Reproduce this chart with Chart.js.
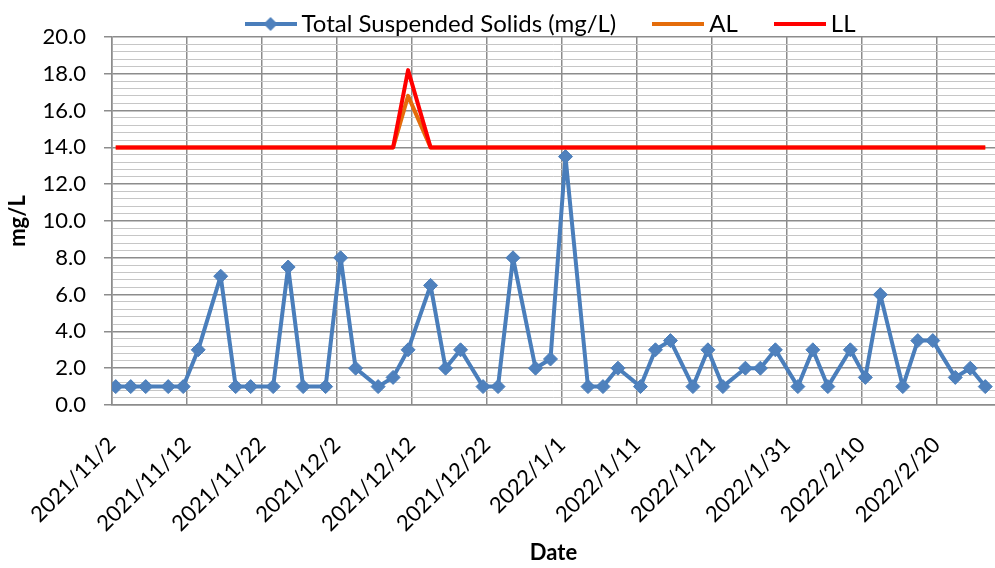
<!DOCTYPE html>
<html>
<head>
<meta charset="utf-8">
<title>Total Suspended Solids</title>
<script src="https://cdn.jsdelivr.net/npm/chart.js@4/dist/chart.umd.min.js"></script>
<style>
  html, body { margin: 0; padding: 0; background: #fff; }
  canvas { display: block; }
</style>
</head>
<body>
<canvas id="tssChart" width="995" height="568"></canvas>
<script>
// sampling dates and measured values
const dates = [
  '2021/11/2','2021/11/4','2021/11/6','2021/11/9','2021/11/11','2021/11/13','2021/11/16','2021/11/18','2021/11/20',
  '2021/11/23','2021/11/25','2021/11/27','2021/11/30','2021/12/2','2021/12/4','2021/12/7','2021/12/9','2021/12/11',
  '2021/12/14','2021/12/16','2021/12/18','2021/12/21','2021/12/23','2021/12/25','2021/12/28','2021/12/30','2022/1/1',
  '2022/1/4','2022/1/6','2022/1/8','2022/1/11','2022/1/13','2022/1/15','2022/1/18','2022/1/20','2022/1/22',
  '2022/1/25','2022/1/27','2022/1/29','2022/2/1','2022/2/3','2022/2/5','2022/2/8','2022/2/10','2022/2/12',
  '2022/2/15','2022/2/17','2022/2/19','2022/2/22','2022/2/24','2022/2/26'
];
const tss = [
  1, 1, 1, 1, 1, 3, 7, 1, 1,
  1, 7.5, 1, 1, 8, 2, 1, 1.5, 3,
  6.5, 2, 3, 1, 1, 8, 2, 2.5, 13.5,
  1, 1, 2, 1, 3, 3.5, 1, 3, 1,
  2, 2, 3, 1, 3, 1, 3, 1.5, 6,
  1, 3.5, 3.5, 1.5, 2, 1
];
const alLimit = [
  14, 14, 14, 14, 14, 14, 14, 14, 14,
  14, 14, 14, 14, 14, 14, 14, 14, 16.8,
  14, 14, 14, 14, 14, 14, 14, 14, 14,
  14, 14, 14, 14, 14, 14, 14, 14, 14,
  14, 14, 14, 14, 14, 14, 14, 14, 14,
  14, 14, 14, 14, 14, 14
];
const llLimit = [
  14, 14, 14, 14, 14, 14, 14, 14, 14,
  14, 14, 14, 14, 14, 14, 14, 14, 18.2,
  14, 14, 14, 14, 14, 14, 14, 14, 14,
  14, 14, 14, 14, 14, 14, 14, 14, 14,
  14, 14, 14, 14, 14, 14, 14, 14, 14,
  14, 14, 14, 14, 14, 14
];
const xTickDates = ['2021/11/2','2021/11/12','2021/11/22','2021/12/2','2021/12/12','2021/12/22',
                    '2022/1/1','2022/1/11','2022/1/21','2022/1/31','2022/2/10','2022/2/20'];
const yMax = 20, yMinorStep = 0.4, yMajorEvery = 5;

// date string -> days since the first sample
const START = Date.UTC(2021, 10, 2);
function dayOf(s) {
  const [y, m, d] = s.split('/').map(Number);
  return (Date.UTC(y, m - 1, d) - START) / 864e5;
}
const pts = arr => dates.map((d, i) => ({x: dayOf(d), y: arr[i]}));

const FONT = 'Lato';
const GRID_MAJOR = '#8c8c8c', GRID_MINOR = '#c6c6c6';
const BLUE = '#4A7EBB', BLUE_FILL = '#4F81BD', ORANGE = '#E46C0A', RED = '#FF0000';

// little line(+diamond) swatches for the legend
function legendIcon(color, marker) {
  const c = document.createElement('canvas');
  c.width = 52; c.height = 16;
  const g = c.getContext('2d');
  g.strokeStyle = color; g.lineWidth = 4;
  g.beginPath(); g.moveTo(0, 8); g.lineTo(52, 8); g.stroke();
  if (marker) {
    g.fillStyle = BLUE_FILL;
    g.beginPath(); g.moveTo(26, 1); g.lineTo(33, 8); g.lineTo(26, 15); g.lineTo(19, 8); g.closePath(); g.fill();
  }
  return c;
}
const icons = [legendIcon(BLUE, true), legendIcon(ORANGE), legendIcon(RED)];

const isMajor = ctx => ctx.index % yMajorEvery === 0;

new Chart(document.getElementById('tssChart'), {
  type: 'line',
  data: {
    datasets: [
      {label: 'Total Suspended Solids (mg/L)', data: pts(tss), borderColor: BLUE, borderWidth: 4,
       borderJoinStyle: 'round', pointStyle: 'rectRot', pointRadius: 7, pointBackgroundColor: BLUE_FILL,
       pointBorderColor: BLUE, pointBorderWidth: 1, tension: 0, order: 3},
      {label: 'AL', data: pts(alLimit), borderColor: ORANGE, borderWidth: 4, borderJoinStyle: 'round',
       pointRadius: 0, tension: 0, order: 2},
      {label: 'LL', data: pts(llLimit), borderColor: RED, borderWidth: 4, borderJoinStyle: 'round',
       pointRadius: 0, tension: 0, order: 1}
    ]
  },
  options: {
    responsive: false,
    animation: false,
    events: [],
    devicePixelRatio: 1,
    // plot runs right up to the canvas edge, no room reserved for markers
    layout: {autoPadding: false, padding: {top: -31, left: 0, right: 0, bottom: 0}},
    plugins: {
      tooltip: {enabled: false},
      legend: {
        position: 'top',
        fullSize: false,
        maxHeight: 68,
        labels: {
          font: {family: FONT, size: 24},
          color: '#000',
          usePointStyle: true,
          pointStyleWidth: 38,
          padding: 43,
          sort: (a, b) => a.datasetIndex - b.datasetIndex,
          generateLabels(chart) {
            const items = Chart.defaults.plugins.legend.labels.generateLabels(chart);
            items.forEach(it => { it.pointStyle = icons[it.datasetIndex]; });
            return items;
          }
        }
      }
    },
    scales: {
      x: {
        type: 'linear',
        min: -0.5,
        max: 117.3,
        afterBuildTicks: s => { s.ticks = xTickDates.map(d => ({value: dayOf(d) - 0.5})); },
        afterFit: s => { s.height = 163; },
        ticks: {
          autoSkip: false, minRotation: 45, maxRotation: 45, padding: 27,
          font: {family: FONT, size: 22}, color: '#000',
          callback: (v, i) => xTickDates[i]
        },
        grid: {color: GRID_MAJOR, lineWidth: 1.5, drawTicks: false},
        border: {color: GRID_MAJOR, width: 1.5},
        title: {display: true, text: 'Date', color: '#000',
                font: {family: FONT, size: 22, weight: 'bold'}, padding: {top: 0, bottom: 2}}
      },
      y: {
        min: 0,
        max: yMax,
        afterBuildTicks: s => {
          const n = Math.round(yMax / yMinorStep);
          s.ticks = Array.from({length: n + 1}, (_, i) => ({value: Math.round(i * yMinorStep * 10) / 10}));
        },
        afterFit: s => { s.width = 112; },
        ticks: {
          autoSkip: false, padding: 18,
          font: {family: FONT, size: 22}, color: '#000',
          callback: (v, i) => i % yMajorEvery === 0 ? v.toFixed(1) : ''
        },
        grid: {
          color: ctx => isMajor(ctx) ? GRID_MAJOR : GRID_MINOR,
          lineWidth: ctx => isMajor(ctx) ? 1.5 : 1,
          tickColor: ctx => isMajor(ctx) ? GRID_MAJOR : 'rgba(0,0,0,0)',
          tickLength: 8
        },
        border: {color: GRID_MAJOR, width: 1.5},
        title: {display: true, text: 'mg/L', color: '#000',
                font: {family: FONT, size: 22, weight: 'bold'}, padding: {top: 5, bottom: 0}}
      }
    }
  }
});
</script>
</body>
</html>
